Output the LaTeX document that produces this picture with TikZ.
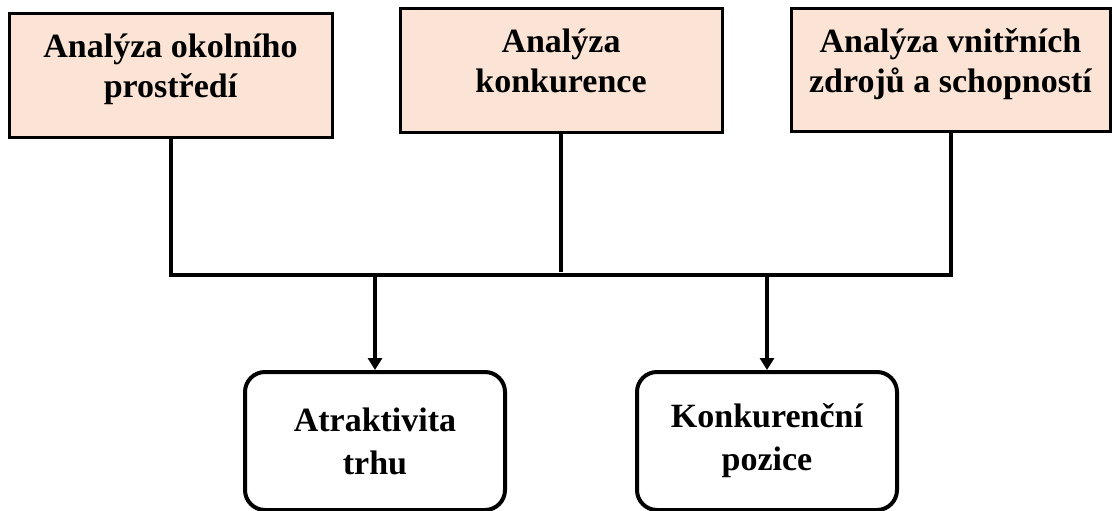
\documentclass[tikz,border=0pt]{standalone}
\usepackage{fontspec}
\setmainfont{Liberation Serif}
\usetikzlibrary{arrows.meta}
\definecolor{broskev}{RGB}{251,228,213}

\begin{document}
\begin{tikzpicture}[x=1pt, y=-1pt,
  analyza/.style={draw, line width=3pt, fill=broskev, align=center,
    font=\bfseries\fontsize{34}{40}\selectfont, minimum height=123pt, text depth=19pt},
  vysledek/.style={draw, line width=4pt, rounded corners=20pt, align=center,
    font=\bfseries\fontsize{34}{43}\selectfont, minimum width=260pt, minimum height=138pt},
  spoj/.style={line width=4pt},
  sipka/.style={line width=4pt, -{Triangle[width=14pt,length=12pt]}}
]
\useasboundingbox (0,0) rectangle (1112,511);

%% analyzy
\node[analyza, minimum width=323pt] (okoli) at (170.5,75.5) {Analýza okolního\\prostředí};
\node[analyza, minimum width=322pt] (konkurence) at (561,70.5) {Analýza\\konkurence};
\node[analyza, minimum width=319pt] (zdroje) at (950.5,70) {Analýza vnitřních\\zdrojů a schopností};

%% vysledky
\node[vysledek] (atraktivita) at (375,441) {Atraktivita\\trhu};
\node[vysledek] (pozice) at (767,441) {Konkurenční\\pozice};

%% spojnice
\coordinate (h1) at (okoli.south |- 0,275);
\coordinate (h3) at (zdroje.south |- 0,275);
\draw[spoj] (okoli.south) -- (h1) -- (h3) -- (zdroje.south);
\draw[spoj] (konkurence.south) -- (konkurence.south |- 0,272);

\draw[sipka] (atraktivita.north |- h1) -- (atraktivita.north);
\draw[sipka] (pozice.north |- h1) -- (pozice.north);
\end{tikzpicture}
\end{document}
